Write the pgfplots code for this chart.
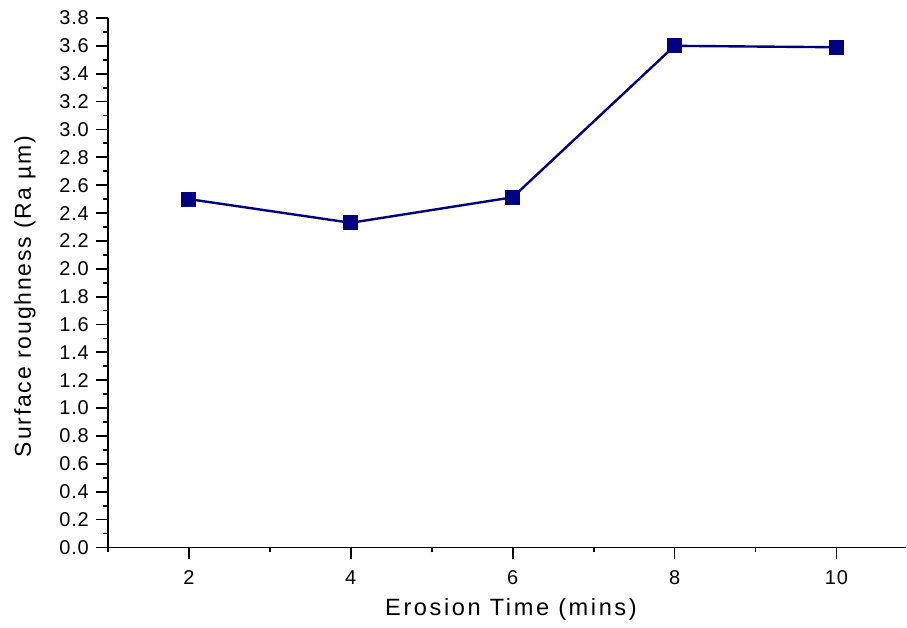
\documentclass[border=0pt]{standalone}
\usepackage{fontspec}
\setmainfont{Liberation Sans}
\usepackage{pgfplots}
\pgfplotsset{compat=1.18}
\definecolor{navy}{RGB}{0,0,128}

\begin{document}
\begin{tikzpicture}
\begin{axis}[
    scale only axis,
    width=399.5pt, height=265pt,
    xmin=1, xmax=10.86,
    ymin=0, ymax=3.8,
    axis x line*=bottom,
    axis y line*=left,
    axis line style={line width=0.9pt, -},
    xtick={2,4,6,8,10},
    minor xtick={1,3,5,7,9},
    ytick distance=0.2,
    minor y tick num=1,
    tick align=outside,
    major tick length=6pt,
    minor tick length=2.5pt,
    tick style={line width=0.9pt, black},
    tick label style={font=\fontsize{10}{11}\selectfont\addfontfeature{LetterSpace=4}},
    /pgf/number format/assume math mode=true,
    yticklabel style={/pgf/number format/.cd, fixed, fixed zerofill, precision=1},
    xticklabel style={yshift=-2pt},
    xlabel={Erosion Time (mins)},
    ylabel={Surface roughness (Ra µm)},
    xlabel style={at={(axis description cs:0.505,-0.117)}, anchor=center,
        font=\fontsize{11.8}{12}\selectfont\addfontfeature{LetterSpace=11}},
    ylabel style={at={(axis description cs:-0.104,0.474)}, anchor=center, rotate=0,
        font=\fontsize{11.5}{12}\selectfont\addfontfeature{LetterSpace=8}},
]
\addplot[navy, line width=1.2pt, mark=square*, mark size=3.2pt, mark options={solid, fill=navy}] coordinates {
    (2,2.50)
    (4,2.33)
    (6,2.513)
    (8,3.60)
    (10,3.59)
};
\end{axis}
\path ([shift={(-54pt,-40pt)}]current axis.south west) rectangle ([shift={(0pt,9pt)}]current axis.north east);
\end{tikzpicture}
\end{document}
